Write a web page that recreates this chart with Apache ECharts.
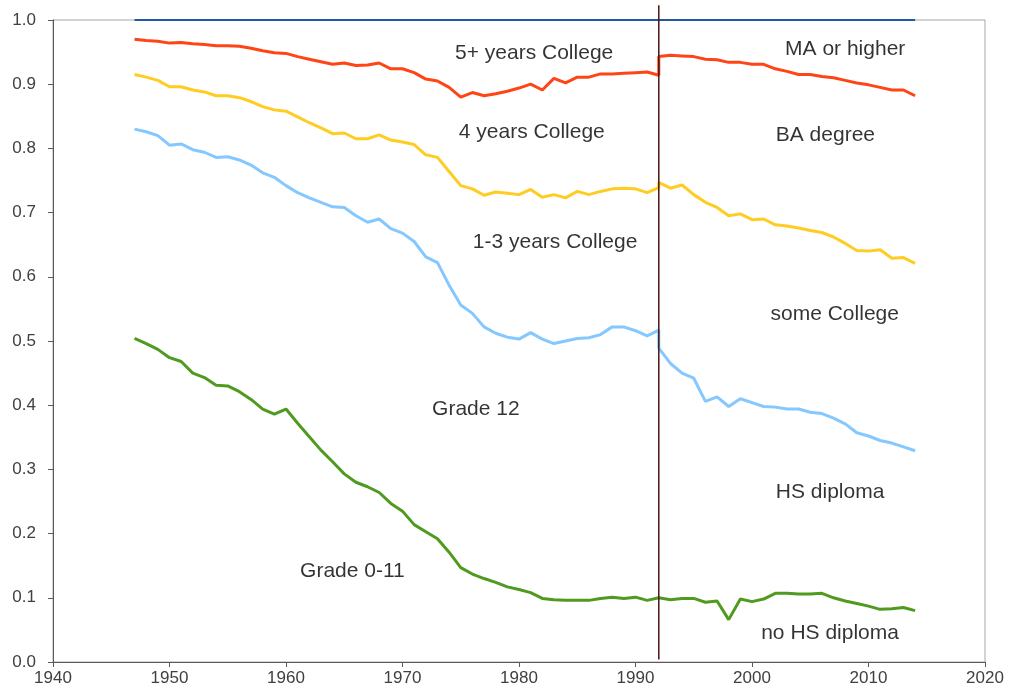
<!DOCTYPE html>
<html>
<head>
<meta charset="utf-8">
<script src="https://cdn.jsdelivr.net/npm/echarts@6/dist/echarts.min.js"></script>
<style>
  html, body { margin: 0; padding: 0; background: #fff; }
  #chart { width: 1009px; height: 698px; }
</style>
</head>
<body>
<div id="chart"></div>
<script>
// years before and after the 1992 change of classification
const oldYears = [1947, 1948, 1949, 1950, 1951, 1952, 1953, 1954, 1955, 1956,
  1957, 1958, 1959, 1960, 1961, 1962, 1963, 1964, 1965, 1966,
  1967, 1968, 1969, 1970, 1971, 1972, 1973, 1974, 1975, 1976,
  1977, 1978, 1979, 1980, 1981, 1982, 1983, 1984, 1985, 1986,
  1987, 1988, 1989, 1990, 1991, 1992]
const newYears = [1992, 1993, 1994, 1995, 1996, 1997, 1998, 1999, 2000, 2001,
  2002, 2003, 2004, 2005, 2006, 2007, 2008, 2009, 2010, 2011,
  2012, 2013, 2014]

const redOld = [0.970, 0.968, 0.967, 0.964, 0.965, 0.963, 0.962, 0.960, 0.960, 0.959,
  0.956, 0.952, 0.949, 0.948, 0.943, 0.939, 0.935, 0.931, 0.933, 0.929,
  0.930, 0.933, 0.924, 0.924, 0.918, 0.908, 0.905, 0.895, 0.880, 0.887,
  0.882, 0.885, 0.889, 0.894, 0.900, 0.891, 0.909, 0.902, 0.911, 0.911,
  0.916, 0.916, 0.917, 0.918, 0.919, 0.914]
const redNew = [0.943, 0.945, 0.944, 0.943, 0.939, 0.938, 0.934, 0.934, 0.931, 0.931,
  0.924, 0.920, 0.915, 0.915, 0.912, 0.910, 0.906, 0.902, 0.899, 0.895,
  0.891, 0.891, 0.882]

const yellowOld = [0.915, 0.911, 0.906, 0.896, 0.896, 0.891, 0.888, 0.882, 0.882, 0.879,
  0.873, 0.865, 0.860, 0.858, 0.849, 0.840, 0.832, 0.823, 0.824, 0.815,
  0.815, 0.821, 0.813, 0.810, 0.806, 0.790, 0.786, 0.764, 0.742, 0.737,
  0.727, 0.732, 0.730, 0.728, 0.736, 0.724, 0.728, 0.723, 0.733, 0.728,
  0.733, 0.737, 0.738, 0.737, 0.731, 0.739]
const yellowNew = [0.747, 0.738, 0.743, 0.728, 0.716, 0.708, 0.695, 0.698, 0.689, 0.690,
  0.681, 0.679, 0.676, 0.672, 0.669, 0.662, 0.652, 0.641, 0.640, 0.642,
  0.629, 0.630, 0.621]

const blueOld = [0.830, 0.826, 0.820, 0.805, 0.807, 0.798, 0.794, 0.786, 0.787, 0.782,
  0.774, 0.762, 0.755, 0.742, 0.731, 0.723, 0.716, 0.709, 0.708, 0.695,
  0.685, 0.690, 0.675, 0.668, 0.655, 0.631, 0.622, 0.587, 0.556, 0.543,
  0.522, 0.512, 0.506, 0.503, 0.513, 0.503, 0.496, 0.500, 0.504, 0.505,
  0.510, 0.522, 0.522, 0.516, 0.508, 0.517]
const blueNew = [0.489, 0.465, 0.450, 0.442, 0.406, 0.413, 0.398, 0.410, 0.404, 0.398,
  0.397, 0.394, 0.394, 0.389, 0.387, 0.380, 0.371, 0.357, 0.352, 0.345,
  0.341, 0.335, 0.329]

const greenOld = [0.504, 0.496, 0.487, 0.474, 0.468, 0.450, 0.443, 0.431, 0.430, 0.421,
  0.409, 0.394, 0.386, 0.394, 0.372, 0.351, 0.330, 0.312, 0.293, 0.280,
  0.273, 0.264, 0.247, 0.235, 0.214, 0.203, 0.192, 0.171, 0.147, 0.137,
  0.130, 0.124, 0.117, 0.113, 0.108, 0.099, 0.097, 0.096, 0.096, 0.096,
  0.099, 0.101, 0.099, 0.101, 0.096, 0.100]
const greenNew = [0.100, 0.097, 0.099, 0.099, 0.093, 0.095, 0.066, 0.098, 0.094, 0.098,
  0.107, 0.107, 0.106, 0.106, 0.107, 0.100, 0.095, 0.091, 0.087, 0.082,
  0.083, 0.085, 0.080]

const topYears = [1947, 2014]
const topValues = [1.0, 1.0]

const breakYears = [1992, 1992]
const breakValues = [0.004, 1.023]

// text labels placed in data units [year, share]
const labelNames = ['5+ years College', 'MA or higher', '4 years College', 'BA degree',
  '1-3 years College', 'some College', 'Grade 12', 'HS diploma', 'Grade 0-11', 'no HS diploma']
const labelYears = [1981.3, 2008.0, 1981.1, 2006.3, 1983.1, 2007.1, 1976.3, 2006.7, 1965.7, 2006.7]
const labelValues = [0.949, 0.954, 0.825, 0.821, 0.654, 0.542, 0.394, 0.264, 0.142, 0.045]

const zip = (xs, ys) => xs.map((x, i) => [x, ys[i]])
const joined = (a, b) => zip(oldYears, a).concat(zip(newYears, b))

const lineSeries = (data, color, width) => ({
	type: 'line',
	data: data,
	showSymbol: false,
	symbol: 'none',
	clip: false,
	silent: true,
	lineStyle: { color: color, width: width },
	z: 3
})

const chart = echarts.init(document.getElementById('chart'))
const axisColor = '#595959'
const tickFont = { fontFamily: 'Liberation Sans', fontSize: 17, color: '#404040' }

chart.setOption({
	animation: false,
	grid: {
		left: 53, right: 24, top: 20, bottom: 36,
		show: true, borderColor: '#a6a6a6', borderWidth: 1
	},
	xAxis: {
		type: 'value', min: 1940, max: 2020, interval: 10,
		splitLine: { show: false },
		axisLine: { show: true, lineStyle: { color: axisColor, width: 1 } },
		axisTick: { show: true, length: 5, lineStyle: { color: axisColor } },
		axisLabel: Object.assign({ margin: 8, formatter: v => String(v) }, tickFont)
	},
	yAxis: {
		type: 'value', min: 0, max: 1, interval: 0.1,
		splitLine: { show: false },
		axisLine: { show: true, lineStyle: { color: axisColor, width: 1 } },
		axisTick: { show: true, length: 5, lineStyle: { color: axisColor } },
		axisLabel: Object.assign({ margin: 17, formatter: v => v.toFixed(1) }, tickFont)
	},
	series: [
		lineSeries(zip(topYears, topValues), '#1f5aa0', 2),
		lineSeries(joined(redOld, redNew), '#ff4415', 3),
		lineSeries(joined(yellowOld, yellowNew), '#ffcc22', 3),
		lineSeries(joined(blueOld, blueNew), '#85c8ff', 3),
		lineSeries(joined(greenOld, greenNew), '#4f9a1f', 3),
		Object.assign(lineSeries(zip(breakYears, breakValues), '#4a1414', 1.5), { z: 4 }),
		{
			type: 'scatter',
			silent: true,
			symbolSize: 0,
			itemStyle: { color: 'rgba(0,0,0,0)' },
			label: {
				show: true, position: 'inside', formatter: '{b}',
				fontFamily: 'Liberation Sans', fontSize: 21, color: '#000',
				textBorderWidth: 0
			},
			z: 5,
			data: labelNames.map((n, i) => ({ name: n, value: [labelYears[i], labelValues[i]] }))
		}
	]
})
</script>
</body>
</html>
